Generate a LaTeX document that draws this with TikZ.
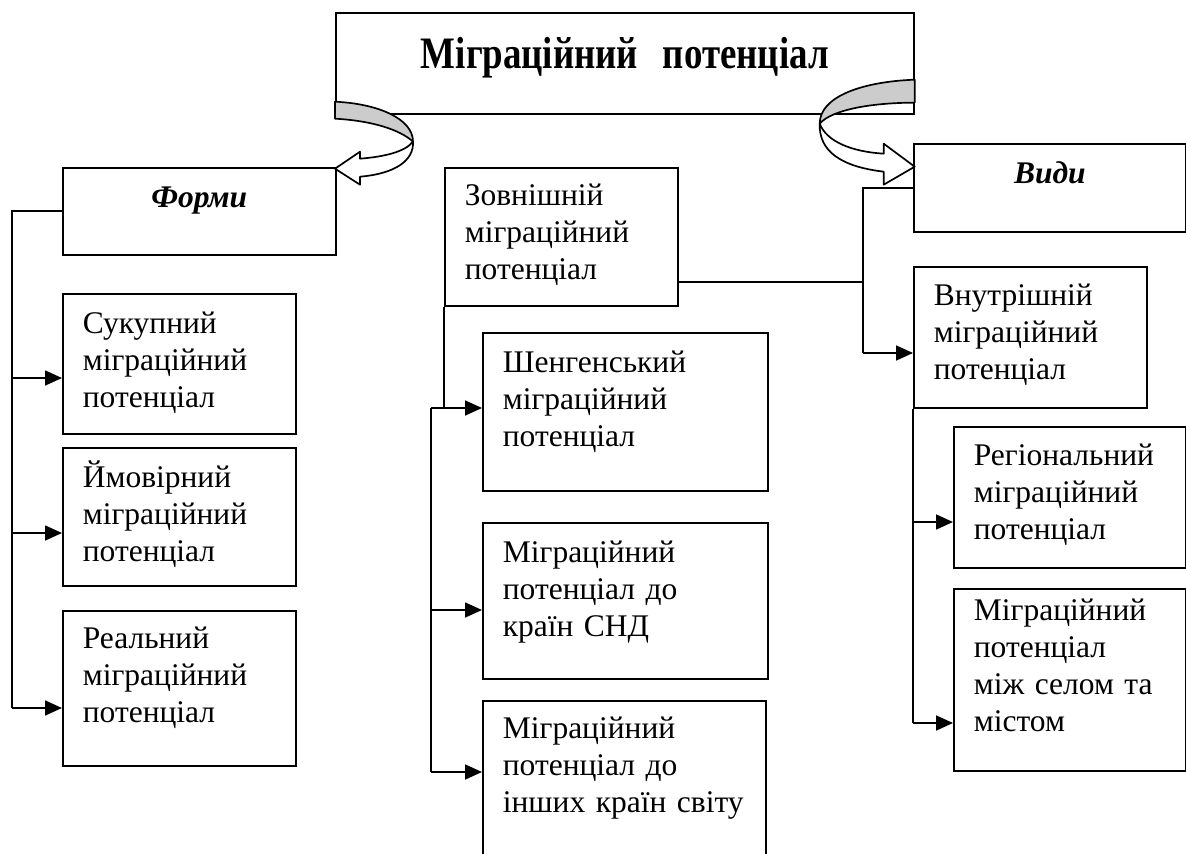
\documentclass[tikz,border=0pt]{standalone}
\usepackage{fontspec}
\setmainfont{Liberation Serif}
\usepackage{graphicx}
\usepackage{tikz}
\usetikzlibrary{arrows.meta, calc}
\newcommand{\bodyfont}{\fontsize{22.4}{26.2}\selectfont}
\newcommand{\titlefont}{\fontsize{32}{36}\selectfont\bfseries}

\begin{document}
\begin{tikzpicture}[x=0.25mm, y=-0.25mm,
    box/.style={draw, line width=1.2pt, anchor=north west, align=left, inner xsep=5mm, inner ysep=0pt, text height=10mm, font=\bodyfont},
    head/.style={box, align=center, font=\bodyfont\bfseries\itshape},
    link/.style={line width=1.2pt},
    arr/.style={link, -{Triangle[length=4.25mm, width=3.75mm]}},
    ribbon/.style={line width=1.2pt, line join=round}]
    \useasboundingbox (0,0) rectangle (1186,854);

    % Top box
    \node[box, align=center, font=\titlefont, text width=134.5mm, text height=14mm, text depth=11.25mm] (title) at (335,12) {\scalebox{0.82}[1]{Міграційний\ \ потенціал}};

    % Headings
    \node[head, text width=58.25mm, text depth=11.75mm] (forms) at (62,167) {Форми};
    \node[head, text width=58mm, text depth=12mm] (kinds) at (913,143) {Види};

    % Forms
    \node[box, text width=48.25mm, text depth=25mm] (sum) at (62,293) {Сукупний\\міграційний\\потенціал};
    \node[box, text width=48.25mm, text depth=24.5mm] (prob) at (62,447) {Ймовірний\\міграційний\\потенціал};
    \node[box, text width=48.25mm, text height=9.5mm, text depth=29.25mm] (real) at (62,610) {Реальний\\міграційний\\потенціал};

    % External
    \node[box, text width=48.25mm, text height=9.5mm, text depth=25mm] (ext) at (444,167) {Зовнішній\\міграційний\\потенціал};
    \node[box, text width=61.25mm, text depth=29.5mm] (schen) at (482,332) {Шенгенський\\міграційний\\потенціал};
    \node[box, text width=61.25mm, text depth=29mm] (cis) at (482,522) {Міграційний\\потенціал до\\країн СНД};
    \node[box, text width=60.75mm, text height=9.5mm, text depth=35.5mm] (world) at (482,700) {Міграційний\\потенціал до\\інших країн світу};

    % Internal
    \node[box, text width=48.25mm, text height=9.75mm, text depth=25.5mm] (inner) at (913,266) {Внутрішній\\міграційний\\потенціал};
    \node[box, text width=48mm, text height=9.75mm, text depth=25.5mm] (reg) at (953,426) {Регіональний\\міграційний\\потенціал};
    \node[box, text width=48mm, text height=8mm, text depth=37.5mm] (town) at (953,588) {Міграційний\\потенціал\\між селом та\\містом};

    % Forms branch
    \coordinate (f1) at (12,378);
    \coordinate (f2) at (12,533);
    \coordinate (f3) at (12,708);
    \draw[link] (forms.west) -| (f3);
    \draw[arr] (f1) -- (f1 -| sum.west);
    \draw[arr] (f2) -- (f2 -| prob.west);
    \draw[arr] (f3) -- (f3 -| real.west);

    % External branch
    \coordinate (m1) at (431,408);
    \coordinate (m2) at (431,610);
    \coordinate (m3) at (431,772);
    \draw[link] (ext.south west) -- (ext.south west |- m1);
    \draw[link] (m1) -- (m3);
    \draw[arr] (m1) -- (m1 -| schen.west);
    \draw[arr] (m2) -- (m2 -| cis.west);
    \draw[arr] (m3) -- (m3 -| world.west);

    % Kinds branch
    \coordinate (k1) at (863,282);
    \coordinate (k2) at (863,353);
    \draw[link] (kinds.west) -| (k2);
    \draw[link] (ext.east |- k1) -- (k1);
    \draw[arr] (k2) -- (k2 -| inner.west);

    % Internal branch
    \coordinate (v1) at (913,522);
    \coordinate (v2) at (913,723);
    \draw[link] (inner.south west) -- (v2);
    \draw[arr] (v1) -- (v1 -| reg.west);
    \draw[arr] (v2) -- (v2 -| town.west);

    % Curved arrow to forms
    \begin{scope}[shift={(title.south west)}]
        \draw[ribbon, fill=gray!40] (0,-13) .. controls (43,-11) and (78,4) .. (78,27)
            .. controls (65,15) and (37,6) .. (0,4) -- cycle;
        \draw[ribbon, fill=white] (78,27) .. controls (70,37) and (50,42) .. (25,44)
            -- (25,37) -- (0,54) -- (25,70) -- (25,62)
            .. controls (60,59) and (79,46) .. (78,27) -- cycle;
    \end{scope}

    % Curved arrow to kinds
    \begin{scope}[shift={(title.south east)}]
        \draw[ribbon, fill=gray!40] (0,-35) .. controls (-53,-33) and (-95,-18) .. (-95,9)
            .. controls (-83,-5) and (-43,-12) .. (0,-12) -- cycle;
        \draw[ribbon, fill=white] (-95,9) .. controls (-88,27) and (-63,37) .. (-31,39)
            -- (-31,29) -- (0,52) -- (-31,70) -- (-31,57)
            .. controls (-73,52) and (-96,37) .. (-95,9) -- cycle;
    \end{scope}
\end{tikzpicture}
\end{document}
